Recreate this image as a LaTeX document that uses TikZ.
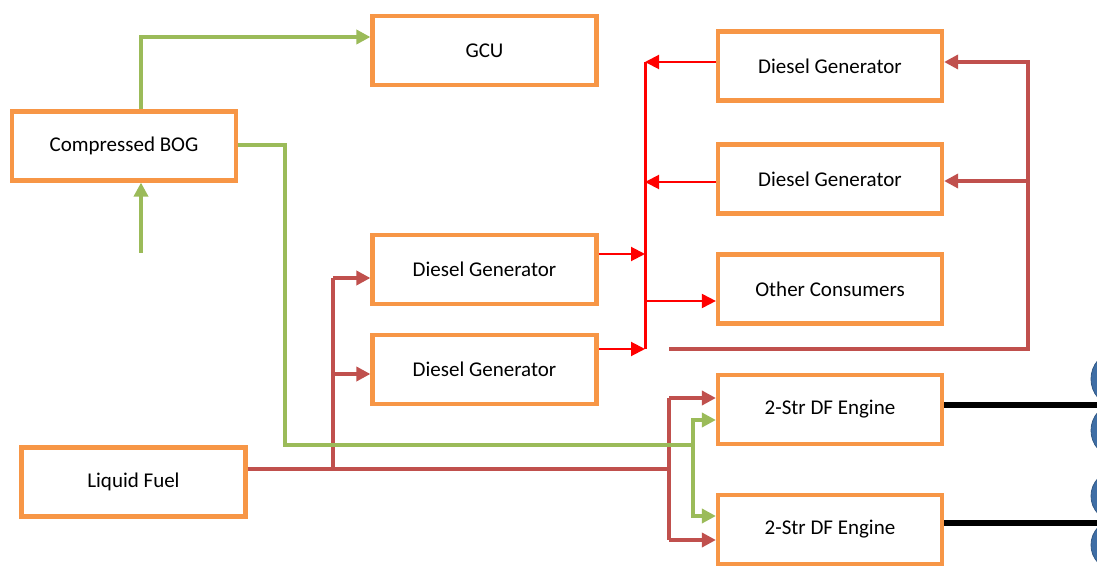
\documentclass[tikz,border=0pt]{standalone}
\usepackage{fontspec}
\setmainfont{Carlito}
\usetikzlibrary{arrows.meta}
\definecolor{boxorange}{HTML}{F79646}
\definecolor{gasgreen}{HTML}{9BBB59}
\definecolor{fuelred}{HTML}{C0504D}
\definecolor{elecred}{HTML}{FF0000}
\definecolor{propblue}{HTML}{3F6EA5}
\begin{document}
\begin{tikzpicture}[x=1pt,y=-1pt,
  blk/.style={draw=boxorange,line width=4.2pt,fill=white,minimum width=224pt,minimum height=69pt,inner sep=0pt,font=\fontsize{21}{24}\selectfont},
  gasline/.style={draw=gasgreen,line width=4.5pt},
  gas/.style={gasline,-{Triangle[length=14pt,width=14pt]}},
  fuelline/.style={draw=fuelred,line width=4.5pt},
  fuel/.style={fuelline,-{Triangle[length=14pt,width=14pt]}},
  elec/.style={draw=elecred,line width=2pt,-{Triangle[length=14pt,width=14pt]}},
  shaft/.style={draw=black,line width=6pt},
  prop/.style={fill=propblue,draw=propblue!80!black,line width=0.8pt}]
\useasboundingbox (0,0) rectangle (1097,569);

% propellers
\fill[prop] (1114,379) ellipse (23 and 26);
\fill[prop] (1114,430.5) ellipse (23 and 25.5);
\fill[prop] (1114,496) ellipse (23 and 24.5);
\fill[prop] (1114,545) ellipse (23 and 24.5);

% boxes
\node[blk] (gcu) at (484.5,50.5) {GCU};
\node[blk] (bog) at (124,146) {Compressed BOG};
\node[blk] (dgA) at (830,66) {Diesel Generator};
\node[blk] (dgB) at (830,179) {Diesel Generator};
\node[blk] (oc) at (830,289) {Other Consumers};
\node[blk] (dgL1) at (484.5,269.5) {Diesel Generator};
\node[blk] (dgL2) at (484.5,369.5) {Diesel Generator};
\node[blk] (eng1) at (830,409.5) {2-Str DF Engine};
\node[blk] (eng2) at (830,529.5) {2-Str DF Engine};
\node[blk] (lf) at (133.5,482) {Liquid Fuel};

% coordinates
\coordinate (g1) at (141,37);
\coordinate (gin) at (141,253);
\coordinate (g2) at (285,145);
\coordinate (g3) at (285,445);
\coordinate (g4) at (693,445);
\coordinate (g5) at (693,420);
\coordinate (g6) at (693,516);
\coordinate (f1) at (333,469);
\coordinate (f2) at (669,469);
\coordinate (f3) at (333,278);
\coordinate (f4) at (333,374);
\coordinate (f5) at (669,398);
\coordinate (f6) at (669,540);
\coordinate (r1) at (669,349);
\coordinate (r2) at (1028,349);
\coordinate (r3) at (1028,62);
\coordinate (r4) at (1028,181);
\coordinate (b1) at (645,62);
\coordinate (b2) at (645,349);
\coordinate (b3) at (645,182);
\coordinate (b4) at (645,301);
\coordinate (b5) at (645,254);
\coordinate (s1) at (1097,405);
\coordinate (s2) at (1097,523);

% fuel (brown) lines
\draw[fuelline] (lf.east |- f1) -- (f2);
\draw[fuelline] (f1) -- (f3);
\draw[fuel] (f3) -- (dgL1.west |- f3);
\draw[fuel] (f4) -- (dgL2.west |- f4);
\draw[fuelline] (f5) -- (f6);
\draw[fuel] (f5) -- (eng1.west |- f5);
\draw[fuel] (f6) -- (eng2.west |- f6);
\draw[fuel] (r1) -- (r2) -- (r3) -- (dgA.east |- r3);
\draw[fuel] (r4) -- (dgB.east |- r4);

% gas (green) lines
\draw[gas] (bog.north -| g1) -- (g1) -- (gcu.west |- g1);
\draw[gas] (gin) -- (bog.south -| gin);
\draw[gasline] (bog.east |- g2) -- (g2) -- (g3) -- (g4);
\draw[gas] (g4) -- (g5) -- (eng1.west |- g5);
\draw[gas] (g4) -- (g6) -- (eng2.west |- g6);

% electric (red)
\draw[draw=elecred,line width=3pt] (b1) -- (b2);
\draw[elec] (dgA.west |- b1) -- (b1);
\draw[elec] (dgB.west |- b3) -- (b3);
\draw[elec] (b4) -- (oc.west |- b4);
\draw[elec] (dgL1.east |- b5) -- (b5);
\draw[elec] (dgL2.east |- b2) -- (b2);

% shafts
\draw[shaft] (eng1.east |- s1) -- (s1);
\draw[shaft] (eng2.east |- s2) -- (s2);
\end{tikzpicture}
\end{document}
